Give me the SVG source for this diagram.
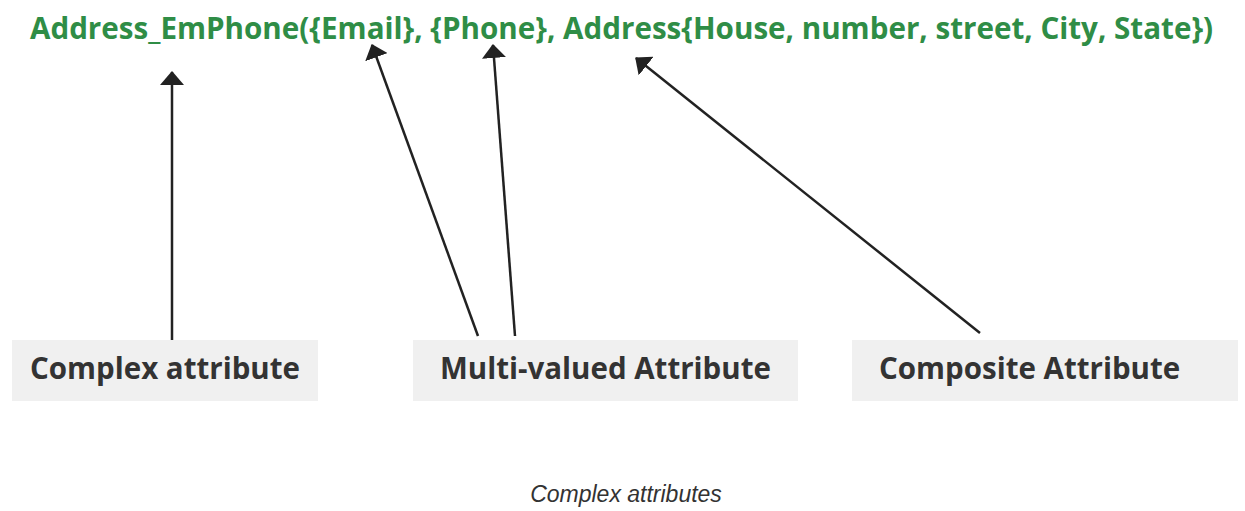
<svg xmlns="http://www.w3.org/2000/svg" width="1245" height="511" viewBox="0 0 1245 511">
  <style>
    .title { font-family: "Open Sans", "Noto Sans", sans-serif; font-weight: 700; font-size: 29.6px; fill: #2f8d46; }
    .box { fill: #f0f0f0; }
    .label { font-family: "Open Sans", "Noto Sans", sans-serif; font-weight: 700; font-size: 29.5px; fill: #333333; }
    .link { stroke: #222222; stroke-width: 2.5; fill: none; marker-end: url(#head); }
    .caption { font-family: "Liberation Sans", Arial, sans-serif; font-style: italic; font-size: 23px; fill: #333333; }
  </style>
  <defs>
    <!-- short, wide filled arrowhead -->
    <marker id="head" viewBox="0 0 14 24" refX="13" refY="12" markerWidth="14" markerHeight="24" orient="auto" markerUnits="userSpaceOnUse">
      <path d="M0,0 L14,12 L0,24 Z" fill="#222222"/>
    </marker>
  </defs>

  <g id="title">
    <text class="title" x="30" y="39">Address_EmPhone({Email}, {Phone}, Address{House, number, street, City, State})</text>
  </g>

  <g id="complex-attribute">
    <rect class="box" x="12" y="340" width="306" height="61"/>
    <text class="label" x="30" y="379">Complex attribute</text>
  </g>

  <g id="multi-valued-attribute">
    <rect class="box" x="413" y="340" width="385" height="61"/>
    <text class="label" x="440" y="379">Multi-valued Attribute</text>
  </g>

  <g id="composite-attribute">
    <rect class="box" x="852" y="340" width="386" height="61"/>
    <text class="label" x="879" y="379">Composite Attribute</text>
  </g>

  <g id="connectors">
    <path class="link" d="M172,340 L172,72"/>
    <path class="link" d="M478,336 L372,45"/>
    <path class="link" d="M515,336 L493,45"/>
    <path class="link" d="M980,333 L636,58"/>
  </g>

  <text class="caption" x="626" y="502" text-anchor="middle">Complex attributes</text>
</svg>
